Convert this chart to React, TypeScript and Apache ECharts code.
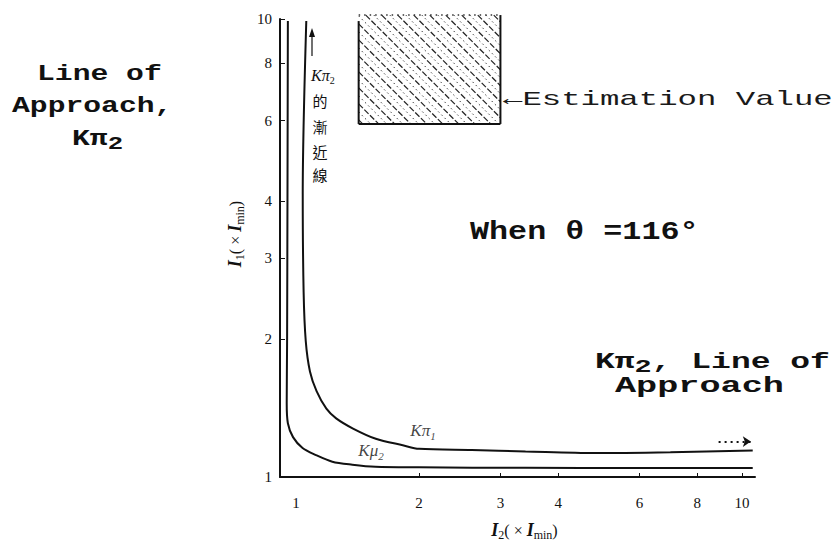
import React, { useEffect, useRef } from 'react';
import * as echarts from 'echarts';

// ---- data ----
const tickValues = [1, 2, 3, 4, 6, 8, 10];
const xRange = [1, 10.67];
const yRange = [1, 10];

const kPi1X = [1.14, 1.12, 1.125, 1.137, 1.161, 1.2, 1.26, 1.323, 1.439, 1.612, 1.844, 2.0, 2.6, 3.4, 4.8, 7.0, 10.55];
const kPi1Y = [9.9, 4.15, 2.53, 1.98, 1.7, 1.54, 1.41, 1.343, 1.276, 1.212, 1.173, 1.152, 1.145, 1.137, 1.128, 1.133, 1.143];

const kMu2X = [1.04, 1.038, 1.036, 1.034, 1.04, 1.067, 1.119, 1.193, 1.298, 1.434, 1.609, 2.0, 3.4, 6.0, 10.55];
const kMu2Y = [9.9, 4.15, 1.98, 1.45, 1.31, 1.222, 1.157, 1.118, 1.08, 1.064, 1.053, 1.05, 1.047, 1.046, 1.046];

const kPi2AsymX = [8.9, 10.45];
const kPi2AsymY = [1.195, 1.195];

const estimationX = [1.48, 3.0];
const estimationY = [5.9, 10.2];

const curveLabelMain = ['Kπ', 'Kμ'];
const curveLabelSub = ['1', '2'];
const curveLabelX = [2.04, 1.574];
const curveLabelY = [1.262, 1.143];

const L = (v: number) => Math.log10(v);

const MONO = 'Liberation Mono';
const SERIF = 'Liberation Serif';

function typedRich(text: string, x: number, y: number, size: number, sx: number, weight = 'bold', fill = '#111', lh = 0) {
  const lineH = lh || size + 6;
  return {
    type: 'text',
    x,
    y,
    scaleX: sx,
    silent: true,
    style: {
      text,
      fontFamily: MONO,
      fontSize: size,
      fontWeight: weight,
      fill,
      textAlign: 'left',
      textVerticalAlign: 'middle',
      align: 'left',
      verticalAlign: 'middle',
      rich: {
        a: { fontFamily: MONO, fontSize: size, fontWeight: weight, fill, color: fill, lineHeight: lineH, verticalAlign: 'middle' },
        s: { fontFamily: MONO, fontSize: Math.round(size * 0.85), fontWeight: weight, fill, color: fill, lineHeight: Math.round(size * 0.85), verticalAlign: 'bottom' },
      },
    },
  };
}

function buildOption() {
  const tickLog = tickValues.map(L);
  const labelStyle = { fontFamily: SERIF, fontSize: 15, color: '#111' };
  const titleRich = {
    i: { fontFamily: SERIF, fontStyle: 'italic', fontWeight: 'bold', fontSize: 18, color: '#111', lineHeight: 22, verticalAlign: 'middle' },
    t: { fontFamily: SERIF, fontSize: 16, color: '#111', lineHeight: 22, verticalAlign: 'middle' },
    s: { fontFamily: SERIF, fontSize: 12, color: '#111', lineHeight: 12, verticalAlign: 'bottom' },
  };

  return {
    animation: false,
    backgroundColor: '#fff',
    grid: { left: 280, top: 19, width: 475, height: 465, containLabel: false },
    xAxis: {
      type: 'value',
      min: L(xRange[0]),
      max: L(xRange[1]),
      name: '{i|I}{s|2}{t|( × }{i|I}{s|min}{t|)}',
      nameLocation: 'middle',
      nameGap: 42,
      nameTextStyle: { padding: [0, 0, 0, 14], rich: titleRich },
      axisLine: { show: true, onZero: false, lineStyle: { color: '#111', width: 2 } },
      axisTick: { show: true, inside: true, length: 4, customValues: tickLog, lineStyle: { color: '#111', width: 1 } },
      axisLabel: {
        ...labelStyle,
        margin: 18,
        customValues: tickLog,
        formatter: (v: number) => {
          const n = Math.round(Math.pow(10, v));
          return n === 1 ? '{one|1}' : String(n);
        },
        rich: { one: { ...labelStyle, padding: [0, 0, 0, 32] } },
      },
      splitLine: { show: false },
    },
    yAxis: {
      type: 'value',
      min: L(yRange[0]),
      max: L(yRange[1]),
      name: '{i|I}{s|1}{t|( × }{i|I}{s|min}{t|)}',
      nameLocation: 'middle',
      nameGap: 30,
      nameRotate: 90,
      nameTextStyle: { padding: [0, 0, 0, 28], rich: titleRich },
      axisLine: { show: true, onZero: false, lineStyle: { color: '#111', width: 2 } },
      axisTick: { show: true, inside: true, length: 5, customValues: tickLog, lineStyle: { color: '#111', width: 1 } },
      axisLabel: {
        ...labelStyle,
        margin: 8,
        customValues: tickLog,
        formatter: (v: number) => String(Math.round(Math.pow(10, v))),
      },
      splitLine: { show: false },
    },
    series: [
      {
        name: 'Kπ1',
        type: 'line',
        data: kPi1X.map((x, i) => [L(x), L(kPi1Y[i])]),
        showSymbol: false,
        smooth: 0.3,
        lineStyle: { color: '#111', width: 2 },
        silent: true,
      },
      {
        name: 'Kμ2',
        type: 'line',
        data: kMu2X.map((x, i) => [L(x), L(kMu2Y[i])]),
        showSymbol: false,
        smooth: 0.3,
        lineStyle: { color: '#111', width: 2 },
        silent: true,
      },
      {
        name: 'Kπ2 asymptote',
        type: 'line',
        data: kPi2AsymX.map((x, i) => [L(x), L(kPi2AsymY[i])]),
        showSymbol: false,
        lineStyle: { opacity: 0 },
        silent: true,
        markLine: {
          silent: true,
          symbol: ['none', 'arrow'],
          symbolSize: 8,
          label: { show: false },
          lineStyle: { color: '#111', type: [2, 4], width: 2 },
          data: [[
            { coord: [L(kPi2AsymX[0]), L(kPi2AsymY[0])] },
            { coord: [L(kPi2AsymX[1]), L(kPi2AsymY[1])] },
          ]],
        },
      },
      {
        name: 'Estimation Value',
        type: 'custom',
        silent: true,
        clip: false,
        encode: { x: [0, 2], y: [1, 3] },
        data: [[L(estimationX[0]), L(estimationY[0]), L(estimationX[1]), L(estimationY[1])]],
        renderItem: (params: any, api: any) => {
          const p0 = api.coord([api.value(0), api.value(3)]);
          const p1 = api.coord([api.value(2), api.value(1)]);
          const x0 = p0[0], y0 = p0[1], x1 = p1[0], y1 = p1[1];
          const w = x1 - x0, h = y1 - y0;
          const children: any[] = [];
          const step = 8;
          let k = 0;
          for (let c = -h + step / 2; c < w; c += step, k++) {
            const tStart = Math.max(0, -c);
            const tEnd = Math.min(h, w - c);
            if (tEnd <= tStart) continue;
            children.push({
              type: 'line',
              shape: { x1: x0 + tStart + c, y1: y0 + tStart, x2: x0 + tEnd + c, y2: y0 + tEnd },
              style: { stroke: '#222', lineWidth: k % 2 ? 0.9 : 1.2, lineDash: k % 2 ? [1.5, 3] : [6, 2] },
            });
          }
          const edge = { stroke: '#111', lineWidth: 2 };
          children.push({ type: 'line', shape: { x1: x0, y1: y0 + 6, x2: x0, y2: y1 }, style: edge });
          children.push({ type: 'line', shape: { x1: x0, y1: y1, x2: x1, y2: y1 }, style: edge });
          children.push({ type: 'line', shape: { x1: x1, y1: y0, x2: x1, y2: y1 }, style: edge });
          children.push({ type: 'line', shape: { x1: x0, y1: y0, x2: x1, y2: y0 }, style: { stroke: '#333', lineWidth: 1.5, lineDash: [1.5, 4] } });
          return { type: 'group', children };
        },
      },
      {
        name: 'curve labels',
        type: 'scatter',
        silent: true,
        symbolSize: 1,
        itemStyle: { color: 'rgba(0,0,0,0)' },
        data: curveLabelMain.map((t, i) => ({ name: `{m|${t}}{s|${curveLabelSub[i]}}`, value: [L(curveLabelX[i]), L(curveLabelY[i])] })),
        label: {
          show: true,
          position: 'inside',
          formatter: '{b}',
          rich: {
            m: { fontFamily: SERIF, fontStyle: 'italic', fontSize: 17, color: '#111', lineHeight: 22, verticalAlign: 'middle' },
            s: { fontFamily: SERIF, fontStyle: 'italic', fontSize: 11, color: '#111', lineHeight: 11, verticalAlign: 'bottom' },
          },
        },
      },
    ],
    graphic: [
      typedRich('Line of', 37, 74, 22, 1.35),
      typedRich('Approach,', 12, 106, 22, 1.35),
      typedRich('{a|Kπ}{s|2}', 72, 139, 22, 1.35),
      typedRich('←Estimation Value', 503, 99, 21, 1.54, 'normal', '#1a1a1a'),
      typedRich('When θ =116°', 470, 232, 25, 1.27),
      typedRich('{a|Kπ}{s|2}{a|, Line of}', 595, 362, 22, 1.5),
      typedRich('Approach', 615, 386, 22, 1.6),
      {
        type: 'line',
        silent: true,
        shape: { x1: 312, y1: 56, x2: 312, y2: 31 },
        style: { stroke: '#111', lineWidth: 1.2 },
      },
      {
        type: 'polygon',
        silent: true,
        shape: { points: [[309, 37], [312, 28], [315, 37]] },
        style: { fill: '#111' },
      },
      {
        type: 'text',
        x: 311,
        y: 75,
        silent: true,
        style: {
          text: '{m|Kπ}{s|2}',
          fontFamily: SERIF,
          fontStyle: 'italic',
          fontSize: 16,
          fill: '#111',
          textAlign: 'left',
          textVerticalAlign: 'middle',
          align: 'left',
          verticalAlign: 'middle',
          rich: {
            m: { fontFamily: SERIF, fontStyle: 'italic', fontSize: 16, fill: '#111', lineHeight: 20, verticalAlign: 'middle' },
            s: { fontFamily: SERIF, fontSize: 10, fill: '#111', lineHeight: 10, verticalAlign: 'bottom' },
          },
        },
      },
      ...['的', '漸', '近', '線'].map((ch, i) => ({
        type: 'text',
        x: 320,
        y: [100, 126, 151, 174][i],
        silent: true,
        style: {
          text: ch,
          fontFamily: 'Noto Sans CJK TC',
          fontSize: 15,
          fill: '#111',
          textAlign: 'center',
          textVerticalAlign: 'middle',
          align: 'center',
          verticalAlign: 'middle',
        },
      })),
    ],
  };
}

export default function App() {
  const ref = useRef<HTMLDivElement>(null);
  useEffect(() => {
    if (!ref.current) return;
    const chart = echarts.init(ref.current, null, { renderer: 'svg' });
    chart.setOption(buildOption() as any);
    return () => {
      chart.dispose();
    };
  }, []);
  return (
    <div
      ref={ref}
      style={{ position: 'fixed', left: 0, top: 0, width: 840, height: 546, background: '#fff' }}
    />
  );
}
